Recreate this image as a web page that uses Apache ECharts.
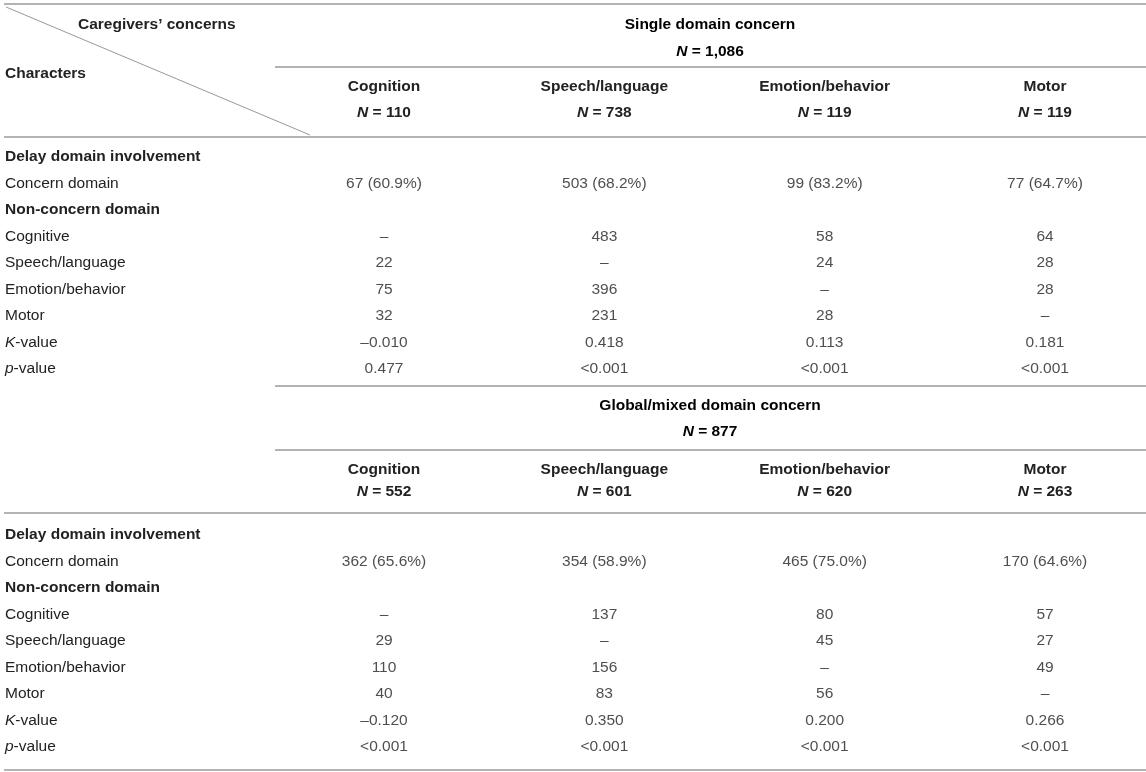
<!DOCTYPE html>
<html>
<head>
<meta charset="utf-8">
<script src="https://cdn.jsdelivr.net/npm/echarts@6/dist/echarts.min.js"></script>
<style>html,body{margin:0;padding:0;background:#fff}#c{width:1146px;height:772px}</style>
</head>
<body>
<div id="c"></div>
<script>
// ---- data ----
var columns = ['Cognition', 'Speech/language', 'Emotion/behavior', 'Motor'];
var rowLabels = ['Delay domain involvement', 'Concern domain', 'Non-concern domain', 'Cognitive', 'Speech/language', 'Emotion/behavior', 'Motor', 'K-value', 'p-value'];

var singleTitle = 'Single domain concern';
var singleTotal = '1,086';
var singleN = [110, 738, 119, 119];
var singleConcernCount = [67, 503, 99, 77];
var singleConcernPct = [60.9, 68.2, 83.2, 64.7];
var singleCognitive = [null, 483, 58, 64];
var singleSpeech = [22, null, 24, 28];
var singleEmotion = [75, 396, null, 28];
var singleMotor = [32, 231, 28, null];
var singleK = [-0.010, 0.418, 0.113, 0.181];
var singleP = ['0.477', '<0.001', '<0.001', '<0.001'];

var mixedTitle = 'Global/mixed domain concern';
var mixedTotal = '877';
var mixedN = [552, 601, 620, 263];
var mixedConcernCount = [362, 354, 465, 170];
var mixedConcernPct = [65.6, 58.9, 75.0, 64.6];
var mixedCognitive = [null, 137, 80, 57];
var mixedSpeech = [29, null, 45, 27];
var mixedEmotion = [110, 156, null, 49];
var mixedMotor = [40, 83, 56, null];
var mixedK = [-0.120, 0.350, 0.200, 0.266];
var mixedP = ['<0.001', '<0.001', '<0.001', '<0.001'];

// ---- helpers ----
var FONT = '"Liberation Sans", Arial, Helvetica, sans-serif';
var FS = 15.5;
var COLOR = '#222';
function rich(lh) {
  return {
    b: {fontFamily: FONT, fontSize: FS, fontWeight: 'bold', color: COLOR, lineHeight: lh},
    n: {fontFamily: FONT, fontSize: FS, color: COLOR, lineHeight: lh},
    i: {fontFamily: FONT, fontSize: FS, fontStyle: 'italic', color: COLOR, lineHeight: lh},
    bi: {fontFamily: FONT, fontSize: FS, fontStyle: 'italic', fontWeight: 'bold', color: COLOR, lineHeight: lh}
  };
}
function dash(v) { return v === null ? '\u2013' : String(v); }
function kfmt(v) { return v.toFixed(3).replace('-', '\u2013'); }
function rowFormatter(v) {
  if (v === 'Delay domain involvement' || v === 'Non-concern domain') return '{b|' + v + '}';
  if (v === 'K-value') return '{i|K}{n|-value}';
  if (v === 'p-value') return '{i|p}{n|-value}';
  return '{n|' + v + '}';
}
function buildRows(count, pct, cog, sp, em, mo, k, p) {
  var rows = [
    [null, null, null, null],
    count.map(function (c, i) { return c + ' (' + pct[i].toFixed(1) + '%)'; }),
    [null, null, null, null],
    cog.map(dash), sp.map(dash), em.map(dash), mo.map(dash),
    k.map(kfmt), p
  ];
  var data = [];
  rows.forEach(function (r, ri) {
    if (ri === 0 || ri === 2) return;
    r.forEach(function (t, ci) { data.push({name: t, value: [ci, ri]}); });
  });
  return data;
}
var singleData = buildRows(singleConcernCount, singleConcernPct, singleCognitive, singleSpeech, singleEmotion, singleMotor, singleK, singleP);
var mixedData = buildRows(mixedConcernCount, mixedConcernPct, mixedCognitive, mixedSpeech, mixedEmotion, mixedMotor, mixedK, mixedP);

function xAxis(gi, nArr, lh, margin) {
  return {
    type: 'category', gridIndex: gi, data: columns, position: 'top', boundaryGap: false,
    axisLine: {show: false}, axisTick: {show: false}, splitLine: {show: false},
    axisLabel: {
      interval: 0, margin: margin, rich: rich(lh),
      formatter: function (v, idx) { return '{b|' + v + '}\n{bi|N}{b| = ' + nArr[idx] + '}'; }
    }
  };
}
function yAxis(gi) {
  return {
    type: 'category', gridIndex: gi, data: rowLabels, inverse: true, boundaryGap: false,
    axisLine: {show: false}, axisTick: {show: false}, splitLine: {show: false},
    axisLabel: {interval: 0, margin: 379, align: 'left', rich: rich(20), formatter: rowFormatter}
  };
}
function series(gi, data) {
  return {
    type: 'scatter', xAxisIndex: gi, yAxisIndex: gi, symbolSize: 0, silent: true, data: data,
    label: {show: true, position: 'inside', formatter: function (p) { return p.name; },
      fontFamily: FONT, fontSize: FS, color: COLOR}
  };
}
var RULE = {stroke: '#b3b3b3', lineWidth: 2};
function rule(x1, y, x2) { return {type: 'line', silent: true, shape: {x1: x1, y1: y, x2: x2, y2: y}, style: RULE}; }

var option = {
  animation: false,
  backgroundColor: '#fff',
  grid: [
    {left: 384, right: 101, top: 157, height: 212},
    {left: 384, right: 101, top: 535, height: 212}
  ],
  xAxis: [xAxis(0, singleN, 26, 31), xAxis(1, mixedN, 22, 32)],
  yAxis: [yAxis(0), yAxis(1)],
  series: [series(0, singleData), series(1, mixedData)],
  graphic: [
    rule(4, 4, 1146), rule(275, 67, 1146), rule(4, 137, 1146),
    rule(275, 386, 1146), rule(275, 450, 1146), rule(4, 513, 1146), rule(4, 770, 1146),
    {type: 'line', silent: true, shape: {x1: 6, y1: 7, x2: 310, y2: 135}, style: {stroke: '#999', lineWidth: 1}},
    {type: 'text', x: 78, y: 25, style: {text: 'Caregivers\u2019 concerns', font: 'bold ' + FS + 'px ' + FONT, fill: COLOR, textVerticalAlign: 'middle'}},
    {type: 'text', x: 5, y: 74, style: {text: 'Characters', font: 'bold ' + FS + 'px ' + FONT, fill: COLOR, textVerticalAlign: 'middle'}},
    {type: 'text', x: 710, y: 11, style: {text: '{b|' + singleTitle + '}\n{bi|N}{b| = ' + singleTotal + '}', rich: rich(27), textAlign: 'center'}},
    {type: 'text', x: 710, y: 393, style: {text: '{b|' + mixedTitle + '}\n{bi|N}{b| = ' + mixedTotal + '}', rich: rich(26), textAlign: 'center'}}
  ]
};
var chart = echarts.init(document.getElementById('c'));
chart.setOption(option);
</script>
</body>
</html>
